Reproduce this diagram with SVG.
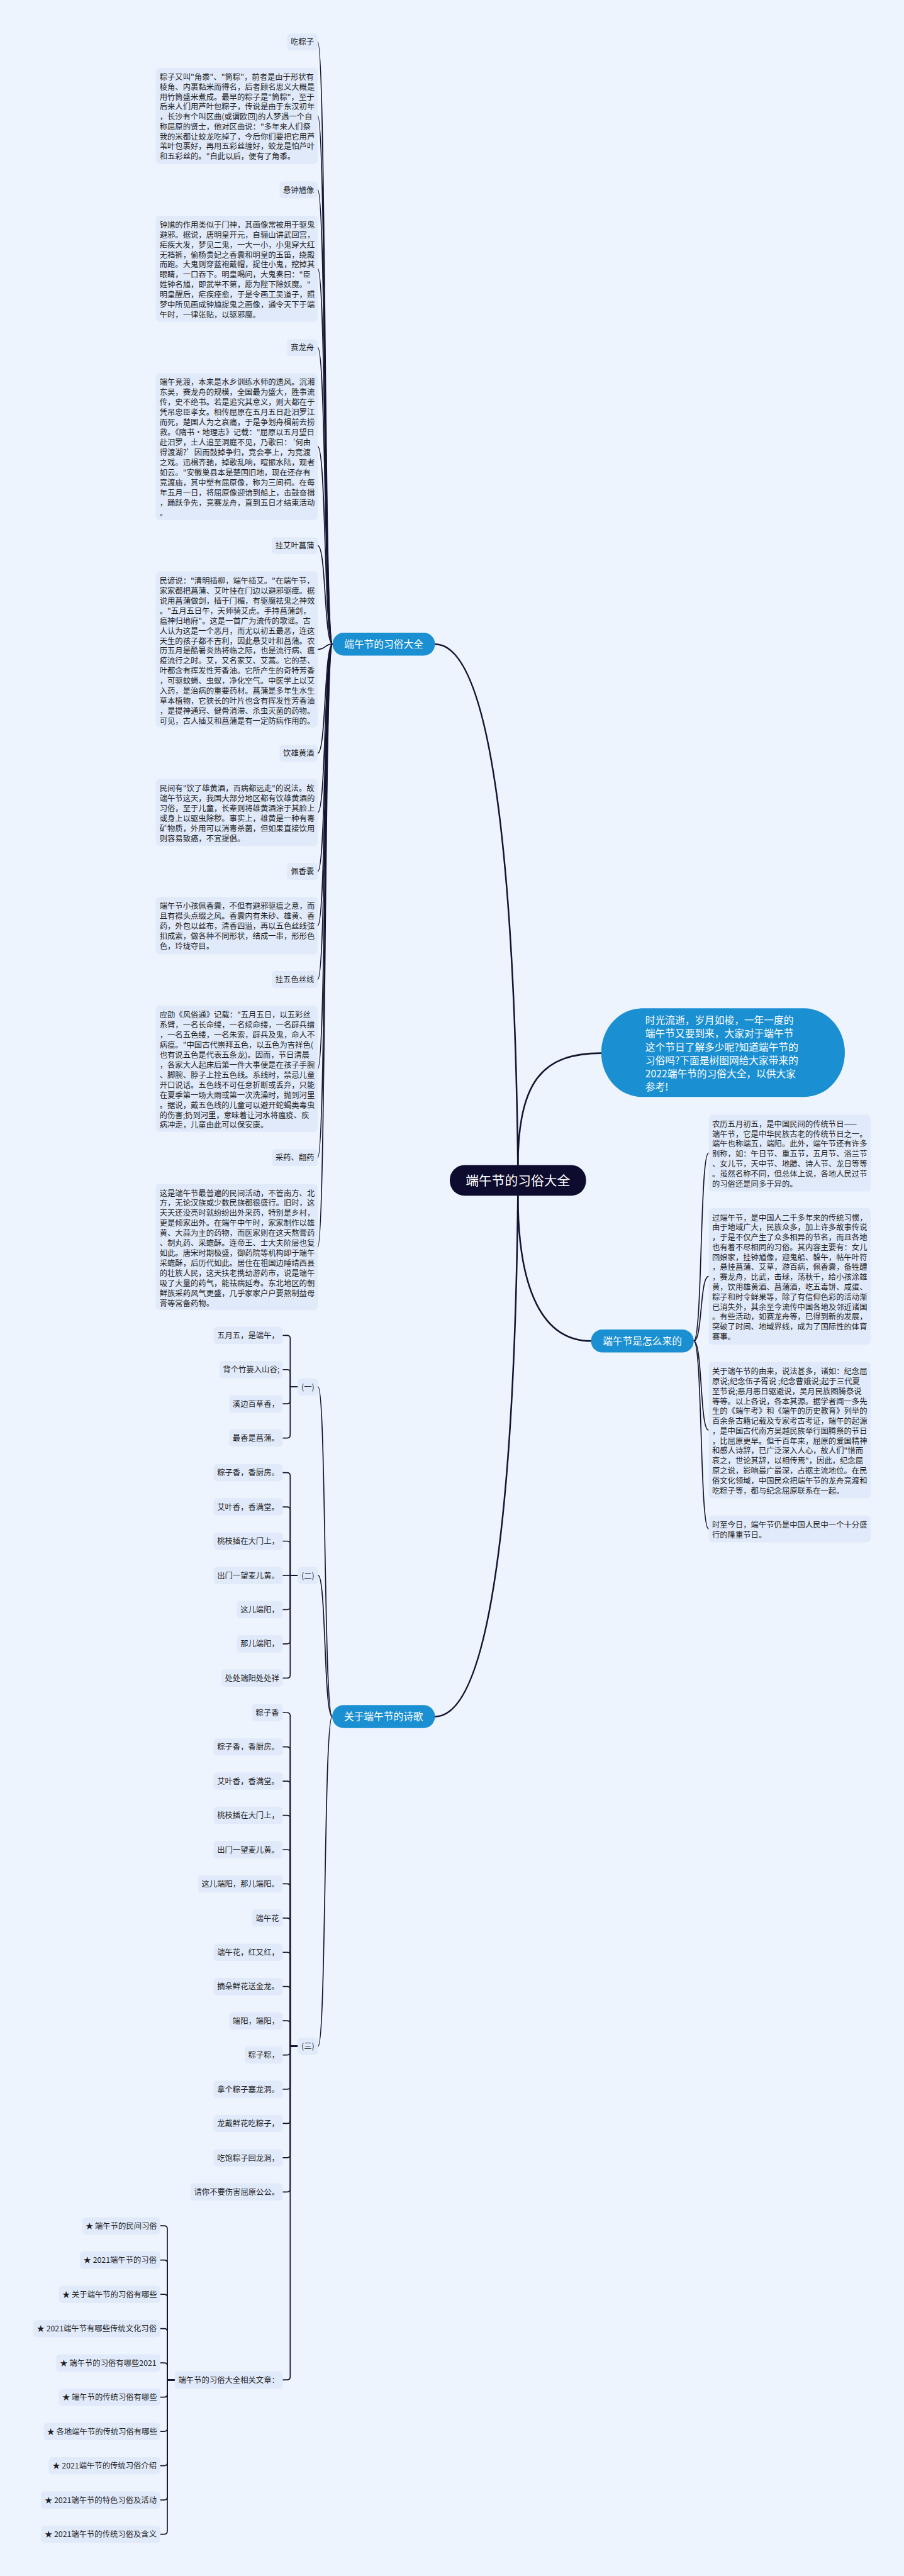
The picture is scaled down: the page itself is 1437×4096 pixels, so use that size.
<svg xmlns="http://www.w3.org/2000/svg" width="1437" height="4096" viewBox="0 0 1437 4096">
<defs>
<style>
.box{fill:#e1eafa}
.t{font-family:"Noto Sans CJK SC","Noto Sans",sans-serif;font-size:22px;fill:#1f1f1f}
.c{text-anchor:middle}
.bn{fill:#1a8fd2}
.wt{font-family:"Noto Sans CJK SC","Noto Sans",sans-serif;font-size:28px;fill:#ffffff}
.rt{font-family:"Noto Sans CJK SC","Noto Sans",sans-serif;font-size:37px;fill:#ffffff;text-anchor:middle}
.ln{fill:none;stroke:#15142f;stroke-width:3;stroke-linecap:round}
.lm{stroke-width:4.5}
</style>
</defs>
<rect x="0" y="0" width="1437" height="4096" fill="#eef4fe"/>
<g transform="scale(0.5612)">

<g id="connectors">
<path class="ln lm" d="M1467,3301 C1460,2689 1420,1825 1232,1825"/>
<path class="ln lm" d="M1467,3301 C1467,3060 1540,2984 1703,2984"/>
<path class="ln lm" d="M1467,3388 C1460,4000 1420,4863.5 1232,4863.5"/>
<path class="ln lm" d="M1467,3388 C1467,3660 1540,3799.5 1674,3799.5"/>

<path class="ln" d="M942,1825 C918,1825 924,119 900,119"/>
<path class="ln" d="M942,1825 C918,1825 924,328.5 900,328.5"/>
<path class="ln" d="M942,1825 C918,1825 924,538 900,538"/>
<path class="ln" d="M942,1825 C918,1825 924,761.5 900,761.5"/>
<path class="ln" d="M942,1825 C918,1825 924,985 900,985"/>
<path class="ln" d="M942,1825 C918,1825 924,1265.5 900,1265.5"/>
<path class="ln" d="M942,1825 C918,1825 924,1546 900,1546"/>
<path class="ln" d="M942,1825 C918,1825 924,1840 900,1840"/>
<path class="ln" d="M942,1825 C918,1825 924,2134 900,2134"/>
<path class="ln" d="M942,1825 C918,1825 924,2302 900,2302"/>
<path class="ln" d="M942,1825 C918,1825 924,2469 900,2469"/>
<path class="ln" d="M942,1825 C918,1825 924,2622.5 900,2622.5"/>
<path class="ln" d="M942,1825 C918,1825 924,2775 900,2775"/>
<path class="ln" d="M942,1825 C918,1825 924,3028 900,3028"/>
<path class="ln" d="M942,1825 C918,1825 924,3280 900,3280"/>
<path class="ln" d="M942,1825 C918,1825 924,3533 900,3533"/>

<path class="ln" d="M1965,3799.5 C1990,3799.5 1982,3267 2007,3267"/>
<path class="ln" d="M1965,3799.5 C1990,3799.5 1982,3616.5 2007,3616.5"/>
<path class="ln" d="M1965,3799.5 C1990,3799.5 1982,4052 2007,4052"/>
<path class="ln" d="M1965,3799.5 C1990,3799.5 1982,4332 2007,4332"/>

<path class="ln" d="M941,4863.5 C917,4863.5 924,3929.5 901,3929.5"/>
<path class="ln" d="M941,4863.5 C917,4863.5 924,4463.5 901,4463.5"/>
<path class="ln" d="M941,4863.5 C917,4863.5 924,5797.5 901,5797.5"/>

<path class="ln" d="M843,3929.5 H822 V3792.5 Q822,3783.5 813,3783.5 H801"/>
<path class="ln" d="M843,3929.5 H822 V3889.5 Q822,3880.5 813,3880.5 H801"/>
<path class="ln" d="M843,3929.5 H822 V3968.5 Q822,3977.5 813,3977.5 H801"/>
<path class="ln" d="M843,3929.5 H822 V4065.5 Q822,4074.5 813,4074.5 H801"/>

<path class="ln" d="M843,4463.5 H822 V4181.5 Q822,4172.5 813,4172.5 H801"/>
<path class="ln" d="M843,4463.5 H822 V4278.5 Q822,4269.5 813,4269.5 H801"/>
<path class="ln" d="M843,4463.5 H822 V4375.5 Q822,4366.5 813,4366.5 H801"/>
<path class="ln" d="M843,4463.5 H801"/>
<path class="ln" d="M843,4463.5 H822 V4551.5 Q822,4560.5 813,4560.5 H801"/>
<path class="ln" d="M843,4463.5 H822 V4648.5 Q822,4657.5 813,4657.5 H801"/>
<path class="ln" d="M843,4463.5 H822 V4745.5 Q822,4754.5 813,4754.5 H801"/>

<path class="ln" d="M843,5797.5 H822 V4861.5 Q822,4852.5 813,4852.5 H801"/>
<path class="ln" d="M843,5797.5 H822 V4958.5 Q822,4949.5 813,4949.5 H801"/>
<path class="ln" d="M843,5797.5 H822 V5055.5 Q822,5046.5 813,5046.5 H801"/>
<path class="ln" d="M843,5797.5 H822 V5152.5 Q822,5143.5 813,5143.5 H801"/>
<path class="ln" d="M843,5797.5 H822 V5249.5 Q822,5240.5 813,5240.5 H801"/>
<path class="ln" d="M843,5797.5 H822 V5346.5 Q822,5337.5 813,5337.5 H801"/>
<path class="ln" d="M843,5797.5 H822 V5443.5 Q822,5434.5 813,5434.5 H801"/>
<path class="ln" d="M843,5797.5 H822 V5540.5 Q822,5531.5 813,5531.5 H801"/>
<path class="ln" d="M843,5797.5 H822 V5637.5 Q822,5628.5 813,5628.5 H801"/>
<path class="ln" d="M843,5797.5 H822 V5734.5 Q822,5725.5 813,5725.5 H801"/>
<path class="ln" d="M843,5797.5 H822 V5813.5 Q822,5822.5 813,5822.5 H801"/>
<path class="ln" d="M843,5797.5 H822 V5910.5 Q822,5919.5 813,5919.5 H801"/>
<path class="ln" d="M843,5797.5 H822 V6007.5 Q822,6016.5 813,6016.5 H801"/>
<path class="ln" d="M843,5797.5 H822 V6104.5 Q822,6113.5 813,6113.5 H801"/>
<path class="ln" d="M843,5797.5 H822 V6201.5 Q822,6210.5 813,6210.5 H801"/>
<path class="ln" d="M843,5797.5 H822 V6734 Q822,6743 813,6743 H801"/>

<path class="ln" d="M495,6743.4 H474 V6315.5 Q474,6306.5 465,6306.5 H454"/>
<path class="ln" d="M495,6743.4 H474 V6412.6 Q474,6403.6 465,6403.6 H454"/>
<path class="ln" d="M495,6743.4 H474 V6509.7 Q474,6500.7 465,6500.7 H454"/>
<path class="ln" d="M495,6743.4 H474 V6606.8 Q474,6597.8 465,6597.8 H454"/>
<path class="ln" d="M495,6743.4 H474 V6703.9 Q474,6694.9 465,6694.9 H454"/>
<path class="ln" d="M495,6743.4 H474 V6783 Q474,6792 465,6792 H454"/>
<path class="ln" d="M495,6743.4 H474 V6880.1 Q474,6889.1 465,6889.1 H454"/>
<path class="ln" d="M495,6743.4 H474 V6977.2 Q474,6986.2 465,6986.2 H454"/>
<path class="ln" d="M495,6743.4 H474 V7074.3 Q474,7083.3 465,7083.3 H454"/>
<path class="ln" d="M495,6743.4 H474 V7171.4 Q474,7180.4 465,7180.4 H454"/>
</g>

<g id="n-root">
<rect x="1274" y="3301" width="386" height="87" rx="42" fill="#0e0c2e"/>
<text class="rt" x="1467" y="3359">端午节的习俗大全</text>
</g>

<g id="n-intro">
<rect class="bn" x="1703" y="2857" width="690" height="251" rx="115" ry="125"/>
<text class="wt" x="1828" y="2901.6"><tspan x="1828" dy="0">时光流逝，岁月如梭，一年一度的</tspan><tspan x="1828" dy="37.6">端午节又要到来，大家对于端午节</tspan><tspan x="1828" dy="37.6">这个节日了解多少呢?知道端午节的</tspan><tspan x="1828" dy="37.6">习俗吗?下面是树图网给大家带来的</tspan><tspan x="1828" dy="37.6">2022端午节的习俗大全，以供大家</tspan><tspan x="1828" dy="37.6">参考!</tspan></text>
</g>

<g id="n-customs">
<rect class="bn" x="942" y="1792.5" width="290" height="65" rx="32"/>
<text class="wt c" x="1087" y="1835.6">端午节的习俗大全</text>
</g>

<g id="n-origin">
<rect class="bn" x="1674" y="3767" width="291" height="65" rx="32"/>
<text class="wt c" x="1819.5" y="3810">端午节是怎么来的</text>
</g>

<g id="n-poems">
<rect class="bn" x="941" y="4831" width="291" height="65" rx="32"/>
<text class="wt c" x="1086.5" y="4874">关于端午节的诗歌</text>
</g>

<g id="n-l1"><rect class="box" x="813" y="95" width="87" height="48" rx="10"/><text class="t c" x="856.5" y="127.4">吃粽子</text></g>
<g id="n-l1t"><rect class="box" x="441" y="192" width="459" height="273" rx="12"/>
<text class="t" x="452" y="226.4"><tspan x="452" dy="0">粽子又叫"角黍"、"筒粽"，前者是由于形状有</tspan><tspan x="452" dy="28.1">棱角、内裹黏米而得名，后者顾名思义大概是</tspan><tspan x="452" dy="28.1">用竹筒盛米煮成。最早的粽子是"筒粽"，至于</tspan><tspan x="452" dy="28.1">后来人们用芦叶包粽子，传说是由于东汉初年</tspan><tspan x="452" dy="28.1">，长沙有个叫区曲(或谓欧回)的人梦遇一个自</tspan><tspan x="452" dy="28.1">称屈原的贤士，他对区曲说："多年来人们祭</tspan><tspan x="452" dy="28.1">我的米都让蛟龙吃掉了，今后你们要把它用芦</tspan><tspan x="452" dy="28.1">苇叶包裹好，再用五彩丝缠好，蛟龙是怕芦叶</tspan><tspan x="452" dy="28.1">和五彩丝的。"自此以后，便有了角黍。</tspan></text></g>

<g id="n-l2"><rect class="box" x="792" y="514" width="108" height="48" rx="10"/><text class="t c" x="846" y="546.4">悬钟馗像</text></g>
<g id="n-l2t"><rect class="box" x="441" y="611" width="459" height="301" rx="12"/>
<text class="t" x="452" y="645.4"><tspan x="452" dy="0">钟馗的作用类似于门神，其画像常被用于驱鬼</tspan><tspan x="452" dy="28.2">避邪。据说，唐明皇开元，自骊山讲武回宫，</tspan><tspan x="452" dy="28.2">疟疾大发，梦见二鬼，一大一小，小鬼穿大红</tspan><tspan x="452" dy="28.2">无裆裤，偷杨贵妃之香囊和明皇的玉笛，绕殿</tspan><tspan x="452" dy="28.2">而跑。大鬼则穿蓝袍戴帽，捉住小鬼，挖掉其</tspan><tspan x="452" dy="28.2">眼睛，一口吞下。明皇喝问，大鬼奏曰："臣</tspan><tspan x="452" dy="28.2">姓钟名馗，即武举不第，愿为陛下除妖魔。"</tspan><tspan x="452" dy="28.2">明皇醒后，疟疾痊愈，于是令画工吴道子，照</tspan><tspan x="452" dy="28.2">梦中所见画成钟馗捉鬼之画像，通令天下于端</tspan><tspan x="452" dy="28.2">午时，一律张贴，以驱邪魔。</tspan></text></g>

<g id="n-l3"><rect class="box" x="813" y="961" width="87" height="48" rx="10"/><text class="t c" x="856.5" y="993.4">赛龙舟</text></g>
<g id="n-l3t"><rect class="box" x="441" y="1057" width="459" height="417" rx="12"/>
<text class="t" x="452" y="1091.4"><tspan x="452" dy="0">端午竞渡，本来是水乡训练水师的遗风。沉湘</tspan><tspan x="452" dy="28.4">东吴，赛龙舟的规模，全国最为盛大，胜事流</tspan><tspan x="452" dy="28.4">传，史不绝书。若是追究其意义，则大都在于</tspan><tspan x="452" dy="28.4">凭吊忠臣孝女。相传屈原在五月五日赴汨罗江</tspan><tspan x="452" dy="28.4">而死，楚国人为之哀痛，于是争划舟楫前去捞</tspan><tspan x="452" dy="28.4">救。《隋书·地理志》记载："屈原以五月望日</tspan><tspan x="452" dy="28.4">赴汨罗，土人追至洞庭不见，乃歌曰：‘何由</tspan><tspan x="452" dy="28.4">得渡湖?’因而鼓掉争归，竞会亭上，为竞渡</tspan><tspan x="452" dy="28.4">之戏。迅楫齐驰，掉歌乱响，喧振水陆，观者</tspan><tspan x="452" dy="28.4">如云。"安徽巢县本是楚国旧地，现在还存有</tspan><tspan x="452" dy="28.4">竞渡庙，其中塑有屈原像，称为三间祠。在每</tspan><tspan x="452" dy="28.4">年五月一日，将屈原像迎谙到船上，击鼓奋揖</tspan><tspan x="452" dy="28.4">，踊跃争先，竞赛龙舟，直到五日才结束活动</tspan><tspan x="452" dy="28.4">。</tspan></text></g>

<g id="n-l4"><rect class="box" x="770" y="1522" width="130" height="48" rx="10"/><text class="t c" x="835" y="1554.4">挂艾叶菖蒲</text></g>
<g id="n-l4t"><rect class="box" x="441" y="1619" width="459" height="442" rx="12"/>
<text class="t" x="452" y="1653.4"><tspan x="452" dy="0">民谚说："清明插柳，端午插艾。"在端午节，</tspan><tspan x="452" dy="28.4">家家都把菖蒲、艾叶挂在门边以避邪驱瘴。据</tspan><tspan x="452" dy="28.4">说用菖蒲做剑，插于门楣，有驱魔祛鬼之神效</tspan><tspan x="452" dy="28.4">。"五月五日午，天师骑艾虎。手持菖蒲剑，</tspan><tspan x="452" dy="28.4">瘟神归地府"。这是一首广为流传的歌谣。古</tspan><tspan x="452" dy="28.4">人认为这是一个恶月，而尤以初五最恶，连这</tspan><tspan x="452" dy="28.4">天生的孩子都不吉利，因此悬艾叶和菖蒲。农</tspan><tspan x="452" dy="28.4">历五月是酷暑炎热将临之际，也是流行病、瘟</tspan><tspan x="452" dy="28.4">疫流行之时。艾，又名家艾、艾蒿。它的茎、</tspan><tspan x="452" dy="28.4">叶都含有挥发性芳香油。它所产生的奇特芳香</tspan><tspan x="452" dy="28.4">，可驱蚊蝇、虫蚁，净化空气。中医学上以艾</tspan><tspan x="452" dy="28.4">入药，是治病的重要药材。菖蒲是多年生水生</tspan><tspan x="452" dy="28.4">草本植物，它狭长的叶片也含有挥发性芳香油</tspan><tspan x="452" dy="28.4">，是提神通窍、健骨消滞、杀虫灭菌的药物。</tspan><tspan x="452" dy="28.4">可见，古人插艾和菖蒲是有一定防病作用的。</tspan></text></g>

<g id="n-l5"><rect class="box" x="792" y="2110" width="108" height="48" rx="10"/><text class="t c" x="846" y="2142.4">饮雄黄酒</text></g>
<g id="n-l5t"><rect class="box" x="441" y="2207" width="459" height="190" rx="12"/>
<text class="t" x="452" y="2241.4"><tspan x="452" dy="0">民间有"饮了雄黄酒，百病都远走"的说法。故</tspan><tspan x="452" dy="28.4">端午节这天，我国大部分地区都有饮雄黄酒的</tspan><tspan x="452" dy="28.4">习俗，至于儿童，长辈则将雄黄酒涂于其脸上</tspan><tspan x="452" dy="28.4">或身上以驱虫除秽。事实上，雄黄是一种有毒</tspan><tspan x="452" dy="28.4">矿物质，外用可以消毒杀菌，但如果直接饮用</tspan><tspan x="452" dy="28.4">则容易致癌，不宜提倡。</tspan></text></g>

<g id="n-l6"><rect class="box" x="813" y="2445" width="87" height="48" rx="10"/><text class="t c" x="856.5" y="2477.4">佩香囊</text></g>
<g id="n-l6t"><rect class="box" x="441" y="2541" width="459" height="163" rx="12"/>
<text class="t" x="452" y="2575.4"><tspan x="452" dy="0">端午节小孩佩香囊，不但有避邪驱瘟之意，而</tspan><tspan x="452" dy="28.4">且有襟头点缀之风。香囊内有朱砂、雄黄、香</tspan><tspan x="452" dy="28.4">药，外包以丝布，清香四溢，再以五色丝线弦</tspan><tspan x="452" dy="28.4">扣成索，做各种不同形状，结成一串，形形色</tspan><tspan x="452" dy="28.4">色，玲珑夺目。</tspan></text></g>

<g id="n-l7"><rect class="box" x="770" y="2751" width="130" height="48" rx="10"/><text class="t c" x="835" y="2783.4">挂五色丝线</text></g>
<g id="n-l7t"><rect class="box" x="441" y="2849" width="459" height="358" rx="12"/>
<text class="t" x="452" y="2883.4"><tspan x="452" dy="0">应劭《风俗通》记载："五月五日，以五彩丝</tspan><tspan x="452" dy="28.4">系臂，一名长命缕，一名续命缕，一名辟兵缯</tspan><tspan x="452" dy="28.4">，一名五色缕，一名朱索，辟兵及鬼，命人不</tspan><tspan x="452" dy="28.4">病瘟。"中国古代崇拜五色，以五色为吉祥色(</tspan><tspan x="452" dy="28.4">也有说五色是代表五条龙)。因而，节日清晨</tspan><tspan x="452" dy="28.4">，各家大人起床后第一件大事便是在孩子手腕</tspan><tspan x="452" dy="28.4">、脚腕、脖子上拴五色线。系线时，禁忌儿童</tspan><tspan x="452" dy="28.4">开口说话。五色线不可任意折断或丢弃，只能</tspan><tspan x="452" dy="28.4">在夏季第一场大雨或第一次洗澡时，抛到河里</tspan><tspan x="452" dy="28.4">。据说，戴五色线的儿童可以避开蛇蝎类毒虫</tspan><tspan x="452" dy="28.4">的伤害;扔到河里，意味着让河水将瘟疫、疾</tspan><tspan x="452" dy="28.4">病冲走，儿童由此可以保安康。</tspan></text></g>

<g id="n-l8"><rect class="box" x="770" y="3256" width="130" height="48" rx="10"/><text class="t c" x="835" y="3288.4">采药、翻药</text></g>
<g id="n-l8t"><rect class="box" x="441" y="3354" width="459" height="358" rx="12"/>
<text class="t" x="452" y="3388.4"><tspan x="452" dy="0">这是端午节最普遍的民间活动，不管南方、北</tspan><tspan x="452" dy="28.4">方，无论汉族或少数民族都很盛行。旧时，这</tspan><tspan x="452" dy="28.4">天天还没亮时就纷纷出外采药，特别是乡村，</tspan><tspan x="452" dy="28.4">更是倾家出外。在端午中午时，家家制作以雄</tspan><tspan x="452" dy="28.4">黄、大蒜为主的药物，而医家则在这天熬膏药</tspan><tspan x="452" dy="28.4">、制丸药、采蟾酥。连帝王、士大夫阶层也复</tspan><tspan x="452" dy="28.4">如此。唐宋时期极盛，御药院等机构即于端午</tspan><tspan x="452" dy="28.4">采蟾酥，后历代如此。居住在祖国边睡靖西县</tspan><tspan x="452" dy="28.4">的壮族人民，这天扶老携幼游药市，说是端午</tspan><tspan x="452" dy="28.4">吸了大量的药气，能祛病延寿。东北地区的朝</tspan><tspan x="452" dy="28.4">鲜族采药风气更盛，几乎家家户户要熬制益母</tspan><tspan x="452" dy="28.4">膏等常备药物。</tspan></text></g>

<g id="n-r1"><rect class="box" x="2007" y="3158" width="459" height="218" rx="12"/>
<text class="t" x="2017" y="3193"><tspan x="2017" dy="0">农历五月初五，是中国民间的传统节日——</tspan><tspan x="2017" dy="28.1">端午节，它是中华民族古老的传统节日之一。</tspan><tspan x="2017" dy="28.1">端午也称端五，端阳。此外，端午节还有许多</tspan><tspan x="2017" dy="28.1">别称，如：午日节、重五节，五月节、浴兰节</tspan><tspan x="2017" dy="28.1">、女儿节，天中节、地腊、诗人节、龙日等等</tspan><tspan x="2017" dy="28.1">。虽然名称不同，但总体上说，各地人民过节</tspan><tspan x="2017" dy="28.1">的习俗还是同多于异的。</tspan></text></g>

<g id="n-r2"><rect class="box" x="2007" y="3423" width="459" height="387" rx="12"/>
<text class="t" x="2017" y="3458"><tspan x="2017" dy="0">过端午节，是中国人二千多年来的传统习惯，</tspan><tspan x="2017" dy="28.1">由于地域广大，民族众多，加上许多故事传说</tspan><tspan x="2017" dy="28.1">，于是不仅产生了众多相异的节名，而且各地</tspan><tspan x="2017" dy="28.1">也有着不尽相同的习俗。其内容主要有：女儿</tspan><tspan x="2017" dy="28.1">回娘家，挂钟馗像，迎鬼船、躲午，帖午叶符</tspan><tspan x="2017" dy="28.1">，悬挂菖蒲、艾草，游百病，佩香囊，备牲醴</tspan><tspan x="2017" dy="28.1">，赛龙舟，比武，击球，荡秋千，给小孩涂雄</tspan><tspan x="2017" dy="28.1">黄，饮用雄黄酒、菖蒲酒，吃五毒饼、咸蛋、</tspan><tspan x="2017" dy="28.1">粽子和时令鲜果等，除了有信仰色彩的活动渐</tspan><tspan x="2017" dy="28.1">已消失外，其余至今流传中国各地及邻近诸国</tspan><tspan x="2017" dy="28.1">。有些活动，如赛龙舟等，已得到新的发展，</tspan><tspan x="2017" dy="28.1">突破了时间、地域界线，成为了国际性的体育</tspan><tspan x="2017" dy="28.1">赛事。</tspan></text></g>

<g id="n-r3"><rect class="box" x="2007" y="3859" width="459" height="386" rx="12"/>
<text class="t" x="2017" y="3894"><tspan x="2017" dy="0">关于端午节的由来，说法甚多，诸如：纪念屈</tspan><tspan x="2017" dy="28.1">原说;纪念伍子胥说 ;纪念曹娥说;起于三代夏</tspan><tspan x="2017" dy="28.1">至节说;恶月恶日驱避说，吴月民族图腾祭说</tspan><tspan x="2017" dy="28.1">等等。以上各说，各本其源。据学者闻一多先</tspan><tspan x="2017" dy="28.1">生的《端午考》和《端午的历史教育》列举的</tspan><tspan x="2017" dy="28.1">百余条古籍记载及专家考古考证，端午的起源</tspan><tspan x="2017" dy="28.1">，是中国古代南方吴越民族举行图腾祭的节日</tspan><tspan x="2017" dy="28.1">，比屈原更早。但千百年来，屈原的爱国精神</tspan><tspan x="2017" dy="28.1">和感人诗辞，已广泛深入人心，故人们"惜而</tspan><tspan x="2017" dy="28.1">哀之，世论其辞，以相传焉"，因此，纪念屈</tspan><tspan x="2017" dy="28.1">原之说，影响最广最深，占据主流地位。在民</tspan><tspan x="2017" dy="28.1">俗文化领域，中国民众把端午节的龙舟竞渡和</tspan><tspan x="2017" dy="28.1">吃粽子等，都与纪念屈原联系在一起。</tspan></text></g>

<g id="n-r4"><rect class="box" x="2007" y="4294" width="459" height="76" rx="12"/>
<text class="t" x="2017" y="4329"><tspan x="2017" dy="0">时至今日，端午节仍是中国人民中一个十分盛</tspan><tspan x="2017" dy="28.1">行的隆重节日。</tspan></text></g>

<g id="n-p1"><rect class="box" x="843" y="3905" width="58" height="49" rx="10"/><text class="t c" x="872" y="3937.9">(一)</text></g>
<g id="n-p1a"><rect class="box" x="605" y="3759" width="196" height="49" rx="10"/><text class="t c" x="703" y="3791.9">五月五，是端午，</text></g>
<g id="n-p1b"><rect class="box" x="622" y="3856" width="179" height="49" rx="10"/><text class="t c" x="711.5" y="3888.9">背个竹篓入山谷;</text></g>
<g id="n-p1c"><rect class="box" x="649" y="3953" width="152" height="49" rx="10"/><text class="t c" x="725" y="3985.9">溪边百草香，</text></g>
<g id="n-p1d"><rect class="box" x="649" y="4050" width="152" height="49" rx="10"/><text class="t c" x="725" y="4082.9">最香是菖蒲。</text></g>

<g id="n-p2"><rect class="box" x="843" y="4439" width="58" height="49" rx="10"/><text class="t c" x="872" y="4471.9">(二)</text></g>
<g id="n-p2a"><rect class="box" x="605" y="4148" width="196" height="49" rx="10"/><text class="t c" x="703" y="4180.9">粽子香，香厨房。</text></g>
<g id="n-p2b"><rect class="box" x="605" y="4245" width="196" height="49" rx="10"/><text class="t c" x="703" y="4277.9">艾叶香，香满堂。</text></g>
<g id="n-p2c"><rect class="box" x="605" y="4342" width="196" height="49" rx="10"/><text class="t c" x="703" y="4374.9">桃枝插在大门上，</text></g>
<g id="n-p2d"><rect class="box" x="605" y="4439" width="196" height="49" rx="10"/><text class="t c" x="703" y="4471.9">出门一望麦儿黄。</text></g>
<g id="n-p2e"><rect class="box" x="671" y="4536" width="130" height="49" rx="10"/><text class="t c" x="736" y="4568.9">这儿端阳，</text></g>
<g id="n-p2f"><rect class="box" x="671" y="4633" width="130" height="49" rx="10"/><text class="t c" x="736" y="4665.9">那儿端阳，</text></g>
<g id="n-p2g"><rect class="box" x="627" y="4730" width="174" height="49" rx="10"/><text class="t c" x="714" y="4762.9">处处端阳处处祥</text></g>

<g id="n-p3"><rect class="box" x="843" y="5773" width="58" height="49" rx="10"/><text class="t c" x="872" y="5805.9">(三)</text></g>
<g id="n-p3a"><rect class="box" x="714" y="4828" width="87" height="49" rx="10"/><text class="t c" x="757.5" y="4860.9">粽子香</text></g>
<g id="n-p3b"><rect class="box" x="605" y="4925" width="196" height="49" rx="10"/><text class="t c" x="703" y="4957.9">粽子香，香厨房。</text></g>
<g id="n-p3c"><rect class="box" x="605" y="5022" width="196" height="49" rx="10"/><text class="t c" x="703" y="5054.9">艾叶香，香满堂。</text></g>
<g id="n-p3d"><rect class="box" x="605" y="5119" width="196" height="49" rx="10"/><text class="t c" x="703" y="5151.9">桃枝插在大门上，</text></g>
<g id="n-p3e"><rect class="box" x="605" y="5216" width="196" height="49" rx="10"/><text class="t c" x="703" y="5248.9">出门一望麦儿黄。</text></g>
<g id="n-p3f"><rect class="box" x="561" y="5313" width="240" height="49" rx="10"/><text class="t c" x="681" y="5345.9">这儿端阳，那儿端阳。</text></g>
<g id="n-p3g"><rect class="box" x="714" y="5410" width="87" height="49" rx="10"/><text class="t c" x="757.5" y="5442.9">端午花</text></g>
<g id="n-p3h"><rect class="box" x="605" y="5507" width="196" height="49" rx="10"/><text class="t c" x="703" y="5539.9">端午花，红又红，</text></g>
<g id="n-p3i"><rect class="box" x="605" y="5604" width="196" height="49" rx="10"/><text class="t c" x="703" y="5636.9">摘朵鲜花送金龙。</text></g>
<g id="n-p3j"><rect class="box" x="649" y="5701" width="152" height="49" rx="10"/><text class="t c" x="725" y="5733.9">端阳，端阳，</text></g>
<g id="n-p3k"><rect class="box" x="693" y="5798" width="108" height="49" rx="10"/><text class="t c" x="747" y="5830.9">粽子粽，</text></g>
<g id="n-p3l"><rect class="box" x="605" y="5895" width="196" height="49" rx="10"/><text class="t c" x="703" y="5927.9">拿个粽子塞龙洞。</text></g>
<g id="n-p3m"><rect class="box" x="605" y="5992" width="196" height="49" rx="10"/><text class="t c" x="703" y="6024.9">龙戴鲜花吃粽子，</text></g>
<g id="n-p3n"><rect class="box" x="605" y="6089" width="196" height="49" rx="10"/><text class="t c" x="703" y="6121.9">吃饱粽子回龙洞，</text></g>
<g id="n-p3o"><rect class="box" x="540" y="6186" width="261" height="49" rx="10"/><text class="t c" x="670.5" y="6218.9">请你不要伤害屈原公公。</text></g>
<g id="n-rel"><rect class="box" x="495" y="6719" width="306" height="49" rx="10"/><text class="t c" x="648" y="6751.9">端午节的习俗大全相关文章：</text></g>

<g id="n-rel1"><rect class="box" x="233" y="6282" width="221" height="49" rx="10"/><text class="t c" x="343.5" y="6314.9">★ 端午节的民间习俗</text></g>
<g id="n-rel2"><rect class="box" x="226" y="6379.1" width="228" height="49" rx="10"/><text class="t c" x="340" y="6412">★ 2021端午节的习俗</text></g>
<g id="n-rel3"><rect class="box" x="167" y="6476.2" width="287" height="49" rx="10"/><text class="t c" x="310.5" y="6509.1">★ 关于端午节的习俗有哪些</text></g>
<g id="n-rel4"><rect class="box" x="94" y="6573.3" width="360" height="49" rx="10"/><text class="t c" x="274" y="6606.2">★ 2021端午节有哪些传统文化习俗</text></g>
<g id="n-rel5"><rect class="box" x="159" y="6670.4" width="295" height="49" rx="10"/><text class="t c" x="306.5" y="6703.3">★ 端午节的习俗有哪些2021</text></g>
<g id="n-rel6"><rect class="box" x="167" y="6767.5" width="287" height="49" rx="10"/><text class="t c" x="310.5" y="6800.4">★ 端午节的传统习俗有哪些</text></g>
<g id="n-rel7"><rect class="box" x="124" y="6864.6" width="330" height="49" rx="10"/><text class="t c" x="289" y="6897.5">★ 各地端午节的传统习俗有哪些</text></g>
<g id="n-rel8"><rect class="box" x="138" y="6961.7" width="316" height="49" rx="10"/><text class="t c" x="296" y="6994.6">★ 2021端午节的传统习俗介绍</text></g>
<g id="n-rel9"><rect class="box" x="116" y="7058.8" width="338" height="49" rx="10"/><text class="t c" x="285" y="7091.7">★ 2021端午节的特色习俗及活动</text></g>
<g id="n-rel10"><rect class="box" x="116" y="7155.9" width="338" height="49" rx="10"/><text class="t c" x="285" y="7188.8">★ 2021端午节的传统习俗及含义</text></g>

</g>
</svg>
